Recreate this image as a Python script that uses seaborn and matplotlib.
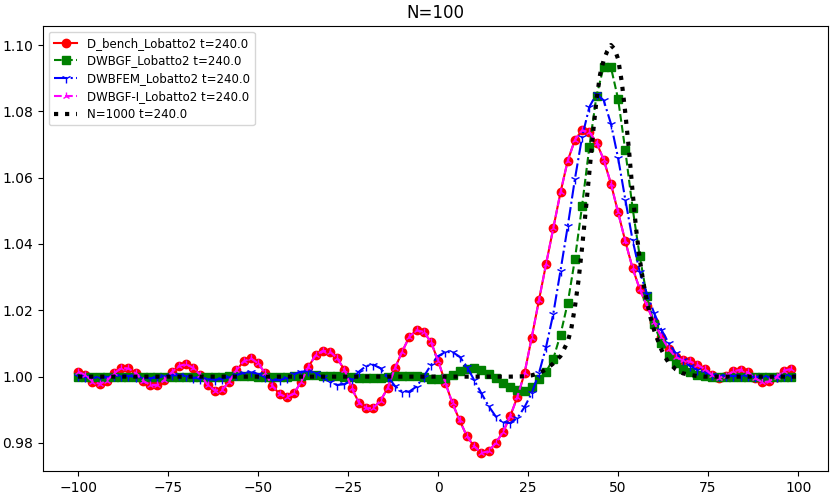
import numpy as np
import pandas as pd
import matplotlib
matplotlib.use("Agg")
import matplotlib.pyplot as plt
import seaborn as sns

# ---- data (x grid of the N=100 solutions: -100 .. 98 step 2) ----
x_grid = np.arange(-100, 100, 2)

d_bench = [
    1.0015, 1.0005, 0.9985, 0.9978, 0.9988, 1.0010, 1.0026, 1.0025, 1.0010, 0.9988,
    0.9975, 0.9975, 0.9990, 1.0013, 1.0032, 1.0038, 1.0026, 1.0005, 0.9975, 0.9958,
    0.9960, 0.9985, 1.0020, 1.0046, 1.0055, 1.0040, 1.0010, 0.9972, 0.9947, 0.9938,
    0.9950, 0.9985, 1.0030, 1.0065, 1.0078, 1.0075, 1.0055, 1.0020, 0.9965, 0.9922,
    0.9905, 0.9905, 0.9928, 0.9965, 1.0025, 1.0075, 1.0120, 1.0140, 1.0135, 1.0105,
    1.0048, 0.9982, 0.9919, 0.9868, 0.9820, 0.9790, 0.9770, 0.9775, 0.9800, 0.9832,
    0.9880, 0.9938, 1.0010, 1.0118, 1.0230, 1.0340, 1.0448, 1.0556, 1.0651, 1.0714,
    1.0743, 1.0737, 1.0706, 1.0654, 1.0582, 1.0495, 1.0408, 1.0328, 1.0264, 1.0214,
    1.0164, 1.0120, 1.0084, 1.0059, 1.0049, 1.0046, 1.0036, 1.0023, 1.0006, 0.9996,
    1.0003, 1.0016, 1.0021, 1.0013, 0.9996, 0.9983, 0.9986, 0.9999, 1.0018, 1.0023,
]

dwbgf = [
    1.0000, 1.0000, 1.0000, 1.0000, 1.0000, 1.0000, 1.0000, 1.0000, 1.0000, 1.0000,
    1.0000, 1.0000, 1.0000, 1.0000, 1.0000, 1.0000, 1.0000, 1.0000, 1.0000, 1.0000,
    1.0000, 1.0001, 1.0002, 1.0002, 1.0001, 1.0000, 0.9999, 0.9998, 0.9998, 0.9999,
    1.0001, 1.0003, 1.0004, 1.0004, 1.0003, 1.0002, 1.0001, 1.0000, 0.9999, 0.9997,
    0.9996, 0.9996, 0.9997, 0.9999, 1.0001, 1.0002, 1.0002, 1.0001, 0.9998, 0.9994,
    0.9992, 0.9996, 1.0006, 1.0017, 1.0023, 1.0025, 1.0020, 1.0009, 0.9995, 0.9982,
    0.9970, 0.9960, 0.9958, 0.9968, 0.9992, 1.0015, 1.0054, 1.0127, 1.0222, 1.0354,
    1.0516, 1.0692, 1.0847, 1.0935, 1.0933, 1.0837, 1.0682, 1.0510, 1.0363, 1.0242,
    1.0158, 1.0101, 1.0063, 1.0040, 1.0023, 1.0013, 1.0006, 1.0001, 1.0000, 1.0000,
    1.0000, 1.0000, 1.0000, 1.0000, 1.0000, 1.0000, 1.0000, 1.0000, 1.0000, 1.0000,
]

dwbfem = [
    1.0003, 1.0000, 0.9997, 0.9996, 0.9998, 1.0001, 1.0003, 1.0002, 0.9999, 0.9996,
    0.9995, 0.9997, 1.0001, 1.0004, 1.0004, 1.0001, 0.9997, 0.9994, 0.9992, 0.9991,
    0.9993, 0.9998, 1.0005, 1.0011, 1.0013, 1.0008, 0.9998, 0.9990, 0.9989, 0.9997,
    1.0008, 1.0015, 1.0016, 1.0010, 0.9998, 0.9985, 0.9975, 0.9977, 0.9992, 1.0015,
    1.0032, 1.0036, 1.0025, 1.0000, 0.9972, 0.9955, 0.9955, 0.9970, 1.0000, 1.0035,
    1.0062, 1.0074, 1.0074, 1.0060, 1.0030, 0.9990, 0.9950, 0.9912, 0.9880, 0.9862,
    0.9860, 0.9875, 0.9908, 0.9950, 1.0010, 1.0090, 1.0190, 1.0320, 1.0453, 1.0596,
    1.0723, 1.0813, 1.0853, 1.0833, 1.0763, 1.0659, 1.0534, 1.0413, 1.0316, 1.0250,
    1.0192, 1.0142, 1.0102, 1.0071, 1.0049, 1.0033, 1.0021, 1.0013, 1.0006, 1.0002,
    1.0001, 1.0002, 1.0002, 1.0001, 0.9999, 0.9998, 0.9998, 1.0000, 1.0002, 1.0002,
]

dwbgf_i = [
    1.0015, 1.0005, 0.9985, 0.9978, 0.9988, 1.0010, 1.0026, 1.0025, 1.0010, 0.9988,
    0.9975, 0.9975, 0.9990, 1.0013, 1.0032, 1.0038, 1.0026, 1.0005, 0.9975, 0.9958,
    0.9960, 0.9985, 1.0020, 1.0046, 1.0055, 1.0040, 1.0010, 0.9972, 0.9947, 0.9938,
    0.9950, 0.9985, 1.0030, 1.0065, 1.0078, 1.0075, 1.0055, 1.0020, 0.9965, 0.9922,
    0.9905, 0.9905, 0.9928, 0.9965, 1.0025, 1.0075, 1.0120, 1.0140, 1.0135, 1.0105,
    1.0048, 0.9982, 0.9919, 0.9868, 0.9820, 0.9790, 0.9770, 0.9775, 0.9800, 0.9832,
    0.9880, 0.9938, 1.0010, 1.0118, 1.0230, 1.0340, 1.0448, 1.0556, 1.0651, 1.0714,
    1.0743, 1.0737, 1.0706, 1.0654, 1.0582, 1.0495, 1.0408, 1.0328, 1.0264, 1.0214,
    1.0164, 1.0120, 1.0084, 1.0059, 1.0049, 1.0046, 1.0036, 1.0023, 1.0006, 0.9996,
    1.0003, 1.0016, 1.0021, 1.0013, 0.9996, 0.9983, 0.9986, 0.9999, 1.0018, 1.0023,
]

# reference solution N=1000 (sampled)
ref_x = [-100, -80, -60, -40, -20, 0, 10, 20, 24, 26, 28, 30, 32, 34, 36, 37, 38, 39,
         40, 41, 42, 43, 44, 45, 46, 47, 48, 49, 50, 51, 52, 53, 54, 55, 56, 57, 58,
         59, 60, 61, 62, 63, 64, 66, 68, 70, 72, 74, 80, 90, 99.8]
ref_y = [1.0000, 1.0000, 1.0000, 1.0000, 1.0000, 1.0000, 1.0000, 1.0000, 1.0001, 1.0004,
         1.0010, 1.0022, 1.0040, 1.0062, 1.0105, 1.0145, 1.0210, 1.0290,
         1.0390, 1.0500, 1.0615, 1.0730, 1.0835, 1.0912, 1.0955, 1.0982, 1.1000, 1.0988,
         1.0958, 1.0890, 1.0795, 1.0685, 1.0560, 1.0445, 1.0355, 1.0285, 1.0228,
         1.0178, 1.0140, 1.0110, 1.0082, 1.0060, 1.0043, 1.0022, 1.0010, 1.0005, 1.0002,
         1.0000, 1.0000, 1.0000, 1.0000]

labels = ["D_bench_Lobatto2 t=240.0", "DWBGF_Lobatto2 t=240.0",
          "DWBFEM_Lobatto2 t=240.0", "DWBGF-I_Lobatto2 t=240.0", "N=1000 t=240.0"]

# ---- figure ----
fig, ax = plt.subplots(figsize=(8.3, 4.93), dpi=100)
fig.subplots_adjust(left=0.052, right=0.9976, bottom=0.045, top=0.947)

common = dict(ax=ax, sort=False, estimator=None)
sns.lineplot(x=x_grid, y=d_bench, color="red", linestyle="-", marker="o",
             markersize=6, markeredgecolor="red", markeredgewidth=1.0,
             linewidth=1.5, label=labels[0], **common)
sns.lineplot(x=x_grid, y=dwbgf, color="green", linestyle="--", marker="s",
             markersize=6, markeredgecolor="green", markeredgewidth=1.0,
             linewidth=1.5, label=labels[1], **common)
sns.lineplot(x=x_grid, y=dwbfem, color="blue", linestyle="-.", marker="1",
             markersize=6.5, markeredgecolor="blue", markeredgewidth=1.0,
             linewidth=1.5, label=labels[2], **common)
sns.lineplot(x=x_grid, y=dwbgf_i, color="magenta", linestyle="--", marker="2",
             markersize=6, markeredgecolor="magenta", markeredgewidth=1.0,
             linewidth=1.5, label=labels[3], **common)
sns.lineplot(x=ref_x, y=ref_y, color="black", linestyle=":", linewidth=3,
             label=labels[4], **common)

ax.set_xlim(-109.7, 108.3)
ax.set_ylim(0.9716, 1.1057)
ax.set_yticks([0.98, 1.00, 1.02, 1.04, 1.06, 1.08, 1.10])
ax.set_xticks([-100, -75, -50, -25, 0, 25, 50, 75, 100])
ax.set_title("N=100")
ax.set_xlabel("")
ax.set_ylabel("")
ax.legend(loc="upper left", fontsize=8.5, labelspacing=0.4)

fig.savefig("out.png", dpi=100)
